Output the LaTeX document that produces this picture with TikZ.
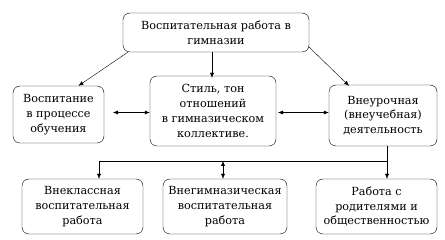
\documentclass[tikz,border=0pt]{standalone}
\usepackage{fontspec}
\setmainfont{DejaVu Serif}
\newfontfamily\serifru{DejaVu Serif}
\usetikzlibrary{arrows.meta}
\begin{document}
\begin{tikzpicture}[x=1pt,y=-1pt,
  box/.style={draw,rounded corners=7pt,align=center,inner sep=0pt,font=\serifru\fontsize{11.2}{14.8}\selectfont},
  arr/.style={-{Latex[length=5pt,width=4pt]}},
  darr/.style={{Latex[length=5pt,width=4pt]}-{Latex[length=5pt,width=4pt]}}]
\useasboundingbox (0,0) rectangle (445,240);
\node[box,minimum width=186pt,minimum height=39pt] (top) at (216,32.5) {Воспитательная работа в\\гимназии};
\node[box,minimum width=91pt,minimum height=57pt] (left) at (58.5,114.5) {Воспитание\\в процессе\\обучения};
\node[box,minimum width=126pt,minimum height=70pt] (mid) at (213,111) {Стиль, тон\\отношений\\в гимназическом\\коллективе.};
\node[box,minimum width=108pt,minimum height=61pt] (right) at (383,115.5) {Внеурочная\\(внеучебная)\\деятельность};
\node[box,minimum width=121pt,minimum height=55pt] (b1) at (82.5,206.5) {Внеклассная\\воспитательная\\работа};
\node[box,minimum width=124pt,minimum height=55pt] (b2) at (225,206.5) {Внегимназическая\\воспитательная\\работа};
\node[box,minimum width=121pt,minimum height=55pt] (b3) at (376.5,206.5) {Работа с\\родителями и\\общественностью};
\coordinate (ly) at (0,112.5);
\coordinate (la) at (113,112.5);
\coordinate (ra) at (278,112.5);
\draw[arr] ([xshift=5pt]top.south west) -- ([xshift=20pt]left.north);
\draw[arr] ([xshift=-4pt]top.south) -- ([xshift=-4pt,yshift=-2pt]top.south |- mid.north);
\draw[arr] ([yshift=5pt]top.south east) -- ([xshift=-34pt,yshift=-1pt]right.north);
\draw[darr] (la) -- (mid.west |- ly);
\draw[darr] (ra) -- (right.west |- ly);
\coordinate (hl) at (99,161);
\coordinate (hr) at (387,161);
\draw ([xshift=4pt]right.south) -- (hr) -- (hl);
\draw[arr] (hl) -- (hl |- b1.north);
\draw[arr] (hr) -- (hr |- b3.north);
\coordinate (mm) at (223,161);
\draw[darr] (mm) -- (mm |- b2.north);
\end{tikzpicture}
\end{document}
